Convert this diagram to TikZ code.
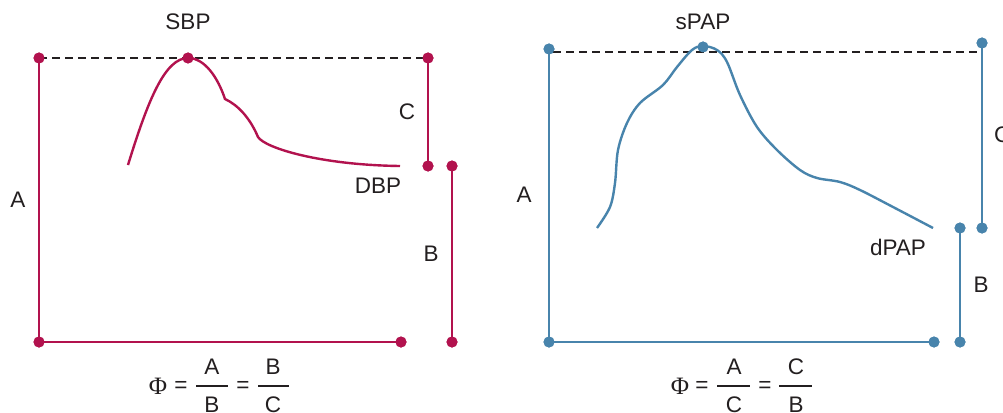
\documentclass[tikz,border=0pt]{standalone}
\usepackage{fontspec}
\setmainfont{Liberation Sans}
\newfontfamily\phifont{Liberation Serif}
\definecolor{crim}{RGB}{178,18,78}
\definecolor{steel}{RGB}{72,132,172}
\definecolor{ink}{RGB}{35,31,32}
\begin{document}
\begin{tikzpicture}[x=1pt,y=-1pt,
  dotL/.style={circle,fill=crim,inner sep=0pt,minimum size=11pt},
  dotR/.style={circle,fill=steel,inner sep=0pt,minimum size=11pt},
  lineL/.style={draw=crim,line width=2pt},
  lineR/.style={draw=steel,line width=2pt},
  curveL/.style={draw=crim,line width=2.4pt},
  curveR/.style={draw=steel,line width=2.4pt},
  dashline/.style={draw=ink,line width=1.5pt,dash pattern=on 8pt off 5pt},
  lbl/.style={text=ink,font=\fontsize{22.5}{26}\selectfont,inner sep=0pt},
  phi/.style={text=ink,font=\fontsize{25}{28}\selectfont\phifont,inner sep=0pt},
  bar/.style={draw=ink,line width=1.5pt}]
\useasboundingbox (0,0) rectangle (1003,412);
\fill[white] (0,0) rectangle (1003,412);

% ---------- left panel ----------
\node[dotL] (L1) at (39,58) {};
\node[dotL] (Lpk) at (188,58) {};
\node[dotL] (L2) at (428,58) {};
\node[dotL] (L3) at (428,166) {};
\node[dotL] (L4) at (452,166) {};
\node[dotL] (L5) at (452,342) {};
\node[dotL] (L6) at (39,342) {};
\node[dotL] (L7) at (401,342) {};
\path[dashline] (L1.center) -- (L2.center);
\path[lineL] (L1.center) -- (L6.center);
\path[lineL] (L6.center) -- (L7.center);
\path[lineL] (L2.center) -- (L3.center);
\path[lineL] (L4.center) -- (L5.center);
\path[curveL] (128,165) .. controls (148,100) and (165,58) .. (Lpk.center)
  .. controls (205,58) and (218,78) .. (225,99)
  .. controls (238,105) and (250,118) .. (258,137)
  .. controls (265,148) and (320,165) .. (400,166);
\node[dotL] at (Lpk) {};
\node[dotL] at (L1) {};
\node[dotL] at (L2) {};
\node[dotL] at (L3) {};
\node[dotL] at (L4) {};
\node[dotL] at (L5) {};
\node[dotL] at (L6) {};
\node[dotL] at (L7) {};

\node[lbl] (sbp) at (188,22) {SBP};
\node[lbl] (lc) at (407,112) {C};
\node[lbl] (dbp) at (378,186) {DBP};
\node[lbl] (la) at (18,200) {A};
\node[lbl] (lb) at (431,254) {B};

\node[phi] (lphi) at (158,386) {Φ};
\node[lbl] (leq1) at (181,387) {=};
\node[lbl] (lnum1) at (212,367) {A};
\node[lbl] (lden1) at (212,405) {B};
\node[lbl] (leq2) at (243,387) {=};
\node[lbl] (lnum2) at (273,367) {B};
\node[lbl] (lden2) at (273,405) {C};
\coordinate (lb1a) at (196,386);
\coordinate (lb1b) at (228,386);
\coordinate (lb2a) at (258,386);
\coordinate (lb2b) at (289,386);
\path[bar] (lb1a) -- (lb1b);
\path[bar] (lb2a) -- (lb2b);

% ---------- right panel ----------
\node[dotR] (R1) at (549,49) {};
\node[dotR] (Rpk) at (703,47) {};
\node[dotR] (R2) at (982,43) {};
\node[dotR] (R3) at (982,228) {};
\node[dotR] (R4) at (960,228) {};
\node[dotR] (R5) at (960,342) {};
\node[dotR] (R6) at (549,342) {};
\node[dotR] (R7) at (934,342) {};
\coordinate (da) at (553,52);
\coordinate (db) at (982,52);
\path[dashline] (da) -- (db);
\path[lineR] (R1.center) -- (R6.center);
\path[lineR] (R6.center) -- (R7.center);
\path[lineR] (R2.center) -- (R3.center);
\path[lineR] (R4.center) -- (R5.center);
\path[curveR] plot[smooth,tension=0.55] coordinates {
  (597,228) (610,207) (615,183) (618,150) (627,123) (640,103) (663,85)
  (677,67) (692,50) (703,46) (717,50) (727,62) (740,95) (757,127)
  (777,150) (800,170) (817,178) (840,182) (860,190) (893,207) (933,228)};
\node[dotR] at (R1) {};
\node[dotR] at (Rpk) {};
\node[dotR] at (R2) {};
\node[dotR] at (R3) {};
\node[dotR] at (R4) {};
\node[dotR] at (R5) {};
\node[dotR] at (R6) {};
\node[dotR] at (R7) {};

\node[lbl] (spap) at (703,22) {sPAP};
\node[lbl,anchor=west] (rc) at (994,135) {C};
\node[lbl] (dpap) at (898,247) {dPAP};
\node[lbl] (ra) at (524,195) {A};
\node[lbl] (rb) at (981,285) {B};

\node[phi] (rphi) at (680,386) {Φ};
\node[lbl] (req1) at (702,387) {=};
\node[lbl] (rnum1) at (734,367) {A};
\node[lbl] (rden1) at (734,405) {C};
\node[lbl] (req2) at (765,387) {=};
\node[lbl] (rnum2) at (796,367) {C};
\node[lbl] (rden2) at (796,405) {B};
\coordinate (rb1a) at (717,386);
\coordinate (rb1b) at (750,386);
\coordinate (rb2a) at (779,386);
\coordinate (rb2b) at (812,386);
\path[bar] (rb1a) -- (rb1b);
\path[bar] (rb2a) -- (rb2b);
\end{tikzpicture}
\end{document}
